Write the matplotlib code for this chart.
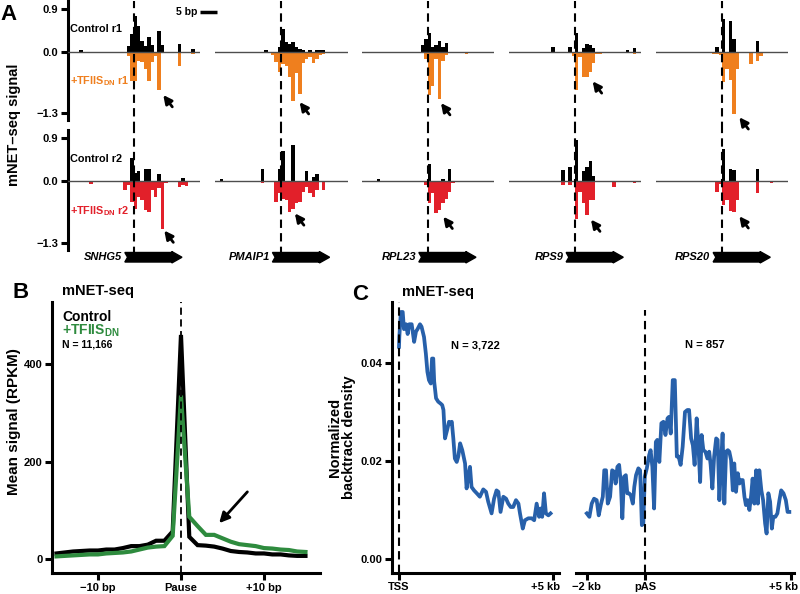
import matplotlib
matplotlib.use("Agg")
import matplotlib.pyplot as plt
from matplotlib.patches import Polygon

# ------------------------------
# Fonts
# ------------------------------
plt.rcParams['font.family'] = ['Liberation Sans', 'DejaVu Sans']
plt.rcParams['font.weight'] = 'bold'
plt.rcParams['mathtext.fontset'] = 'custom'
plt.rcParams['mathtext.bf'] = 'Liberation Sans:bold'
plt.rcParams['mathtext.rm'] = 'Liberation Sans:bold'

# ------------------------------
# Panel A data (bp from pause -> signal)
# ------------------------------
genes = ['SNHG5', 'PMAIP1', 'RPL23', 'RPS9', 'RPS20']

control_r1 = [
    {-16: .03, -2: .12, -1: .37, 0: .76, 1: .55, 2: .22, 3: .12, 4: .30, 5: .14, 7: .44, 8: .13, 13: .16, 17: .05},
    {-5: .04, -1: .10, 0: .48, 1: .20, 2: .16, 3: .20, 4: .10, 5: .05, 6: .04, 8: .04, 10: .04, 11: .04, 12: .03},
    {-2: .13, -1: .27, 0: .40, 1: .09, 2: .13, 3: .22, 4: .09, 5: .18},
    {-7: .10, -2: .10, 0: .39, 2: .07, 3: .16, 4: .14, 5: .07, 15: .04, 17: .07},
    {-2: .10, 0: .69, 2: .65, 3: .27, 10: .23},
]
tfiis_r1 = [
    {-2: .10, -1: .62, 0: .62, 1: .20, 2: .22, 3: .37, 4: .62, 5: .22, 6: .10, 7: .81, 13: .30, 17: .05},
    {-18: .03, -17: .03, -14: .04, -12: .04, -3: .08, -2: .22, -1: .44, 0: .26, 1: .30, 2: .54, 3: 1.05,
     4: .45, 5: .90, 6: .25, 7: .15, 8: .12, 9: .25, 10: .15, 11: .08, 12: .05},
    {-18: .04, -1: .15, 0: .92, 1: .72, 2: .15, 3: 1.0, 4: .19, 5: .08, 11: .05},
    {-1: .10, 0: .81, 1: .12, 2: .54, 3: .54, 4: .44, 5: .25, 6: .05, 7: .05, 17: .05},
    {-3: .05, -2: .06, -1: .08, 0: .65, 1: .37, 2: .61, 3: 1.32, 4: .37, 8: .26, 10: .21, 11: .10},
]
control_r2 = [
    {-1: .48, 0: .16, 1: .20, 3: .25, 4: .25, 7: .15, 14: .06},
    {-18: .05, -6: .25, -1: .25, 0: .63, 3: .76, 7: .20, 9: .09, 10: .15},
    {-15: .05, 0: .35, 4: .04, 6: .25},
    {-4: .23, -2: .30, 0: .87, 2: .20, 3: .30, 4: .42, 5: .10},
    {0: .67, 2: .25, 3: .22, 10: .25},
]
tfiis_r2 = [
    {-13: .07, -3: .19, -2: .08, -1: .44, 0: .58, 1: .33, 2: .40, 3: .60, 4: .65, 5: .19, 6: .33, 7: .15,
     8: 1.0, 9: .05, 10: .02, 13: .12, 14: .08, 15: .10},
    {-18: .02, -6: .05, -3: .03, -2: .44, -1: .26, 0: .37, 1: .40, 2: .65, 3: .58, 4: .47, 5: .44, 6: .23,
     7: .12, 8: .25, 9: .33, 10: .18, 12: .19, 14: .03},
    {-1: .08, 0: .46, 1: .26, 2: .68, 3: .61, 4: .47, 5: .37, 6: .23, 7: .05, 8: .03, 15: .03},
    {-4: .08, -2: .08, 0: .79, 1: .23, 2: .47, 3: .72, 4: .39, 5: .39, 11: .12, 17: .04},
    {-2: .23, -1: .06, 0: .50, 1: .39, 2: .63, 3: .65, 4: .39, 8: .03, 10: .25, 14: .05},
]
# arrow tips (bp, signal)
arrow_r1_bp = [8.7, 5.4, 3.9, 5.2, 5.1]
arrow_r1_val = [-0.92, -1.07, -1.09, -0.63, -1.39]
arrow_r2_bp = [9.0, 4.0, 4.6, 4.7, 5.1]
arrow_r2_val = [-1.04, -0.68, -0.75, -0.81, -0.74]

# ------------------------------
# Panel B data
# ------------------------------
b_pos = list(range(-15, 16))
b_control = [12, 14, 16, 17, 18, 18, 20, 20, 23, 27, 27, 30, 38, 38, 57, 459,
             46, 29, 28, 26, 22, 17, 15, 14, 12, 12, 10, 10, 8, 7, 7]
b_tfiis = [6, 7, 8, 9, 10, 10, 12, 13, 14, 16, 20, 24, 26, 27, 48, 335,
           87, 68, 50, 50, 43, 36, 31, 29, 27, 23, 22, 20, 19, 16, 15]

# ------------------------------
# Panel C data (kb, density)
# ------------------------------
tss_kb = [0.00, 0.01, 0.06, 0.12, 0.16, 0.23, 0.28, 0.33, 0.41, 0.49,
          0.55, 0.60, 0.68, 0.73, 0.81, 0.87, 0.92, 0.97, 1.03, 1.07,
          1.11, 1.14, 1.20, 1.27, 1.35, 1.40, 1.44, 1.49, 1.57, 1.62,
          1.67, 1.71, 1.76, 1.81, 1.87, 1.92, 1.98, 2.05, 2.14, 2.19,
          2.25, 2.30, 2.35, 2.43, 2.52, 2.62, 2.73, 2.82, 2.89, 3.00,
          3.08, 3.16, 3.22, 3.29, 3.38, 3.47, 3.54, 3.62, 3.70, 3.79,
          3.87, 3.92, 4.01, 4.08, 4.19, 4.30, 4.38, 4.46, 4.54, 4.59,
          4.64, 4.70, 4.76, 4.84, 4.91]
tss_density = [.0434, .0454, .0505, .0505, .0470, .0480, .0460, .0480, .0480, .0444,
               .0465, .0470, .0480, .0475, .0454, .0420, .0383, .0366, .0359, .0410,
               .0410, .0363, .0329, .0322, .0318, .0315, .0305, .0247, .0267, .0281,
               .0277, .0281, .0247, .0206, .0199, .0210, .0237, .0223, .0196, .0145,
               .0172, .0189, .0148, .0141, .0135, .0128, .0143, .0138, .0118, .0094,
               .0124, .0141, .0138, .0097, .0128, .0124, .0114, .0107, .0107, .0121,
               .0114, .0094, .0063, .0080, .0084, .0084, .0080, .0114, .0087, .0104,
               .0087, .0135, .0094, .0090, .0094]

pas_kb = [-2.00, -1.91, -1.83, -1.75, -1.66, -1.59, -1.52, -1.45, -1.40, -1.34,
          -1.28, -1.20, -1.13, -1.06, -1.01, -0.95, -0.89, -0.83, -0.78, -0.72,
          -0.66, -0.61, -0.55, -0.49, -0.42, -0.37, -0.31, -0.23, -0.17, -0.11,
          -0.06, -0.01, 0.06, 0.14, 0.19, 0.25, 0.31, 0.37, 0.42, 0.49,
          0.56, 0.63, 0.70, 0.77, 0.82, 0.88, 0.95, 1.02, 1.09, 1.15,
          1.22, 1.29, 1.37, 1.45, 1.51, 1.58, 1.64, 1.70, 1.77, 1.83,
          1.89, 1.94, 2.00, 2.07, 2.14, 2.20, 2.25, 2.31, 2.37, 2.44,
          2.49, 2.55, 2.61, 2.66, 2.72, 2.78, 2.84, 2.89, 2.95, 3.01,
          3.06, 3.12, 3.18, 3.24, 3.29, 3.35, 3.41, 3.46, 3.52, 3.58,
          3.64, 3.69, 3.75, 3.81, 3.87, 3.92, 3.99, 4.05, 4.12, 4.17,
          4.23, 4.29, 4.35, 4.40, 4.47, 4.54, 4.61, 4.67, 4.75, 4.83,
          4.89, 4.95]
pas_density = [.0094, .0087, .0114, .0124, .0121, .0090, .0111, .0128, .0182, .0182,
               .0114, .0128, .0182, .0179, .0155, .0189, .0193, .0155, .0084, .0169,
               .0172, .0135, .0135, .0131, .0114, .0148, .0172, .0186, .0182, .0070,
               .0073, .0169, .0186, .0213, .0223, .0189, .0104, .0240, .0244, .0199,
               .0278, .0281, .0254, .0288, .0291, .0257, .0366, .0366, .0210, .0210,
               .0193, .0230, .0301, .0305, .0305, .0247, .0233, .0193, .0288, .0233,
               .0158, .0254, .0223, .0220, .0206, .0220, .0193, .0145, .0210, .0247,
               .0244, .0121, .0199, .0257, .0114, .0220, .0223, .0220, .0203, .0141,
               .0196, .0138, .0176, .0155, .0162, .0162, .0128, .0111, .0121, .0101,
               .0131, .0165, .0114, .0182, .0114, .0182, .0141, .0121, .0073, .0053,
               .0135, .0118, .0063, .0087, .0087, .0094, .0121, .0141, .0135, .0121,
               .0097, .0097]

# ------------------------------
# Colours / helpers
# ------------------------------
ORANGE = '#EF7F1E'
RED = '#E2202A'
GREEN = '#2E8B3E'
BLUE = '#2760AA'
DASH = (0, (4, 2.5))

W, H = 800, 594
fig = plt.figure(figsize=(8, 5.94), dpi=100)


def axes_px(l, t, r, b):
    return fig.add_axes([l / W, 1 - b / H, (r - l) / W, (b - t) / H])


def text_px(x, y, s, **kw):
    fig.text(x / W, 1 - y / H, s, **kw)


def style_ticks(ax):
    ax.tick_params(direction='out', length=5, width=2.2, labelsize=8, pad=2)
    for s in ax.spines.values():
        s.set_linewidth(2.2)


def right_label(ax, x, s):
    # "+5 kb" sits left of its tick so it stays inside the figure
    ax.annotate(s, xy=(x, 0), xycoords=('data', 'axes fraction'), xytext=(5, -7),
                textcoords='offset points', ha='right', va='top', fontsize=8)


# ------------------------------
# Panel A
# ------------------------------
dash_px = [133.7, 281.3, 427.7, 575, 722]
rows = [(0.5, 120.1, control_r1, tfiis_r1, ORANGE, 'r1', arrow_r1_bp, arrow_r1_val),
        (129.5, 250.1, control_r2, tfiis_r2, RED, 'r2', arrow_r2_bp, arrow_r2_val)]

for r, (top, bot, ctl, tf, col, rep, abp, aval) in enumerate(rows):
    for g in range(5):
        ax = axes_px(dash_px[g] - 66, top, dash_px[g] - 66 + 132.3, bot)
        ax.set_xlim(-19.4, 19.5)
        ax.set_ylim(-1.45, 1.08)
        ax.bar(list(ctl[g].keys()), list(ctl[g].values()), width=1, align='edge',
               color='black', linewidth=0)
        ax.bar(list(tf[g].keys()), [-v for v in tf[g].values()], width=1, align='edge',
               color=col, linewidth=0)
        ax.axhline(0, color='#4d4d4d', lw=1, zorder=3)
        ax.axvline(0, ymin=(-0.08 if r == 0 else -0.04), ymax=1, color='black', lw=1.5,
                   linestyle=DASH, clip_on=False, zorder=4)
        ax.annotate('', xy=(abp[g], aval[g]), xytext=(6.5, -8.5), textcoords='offset points',
                    arrowprops=dict(arrowstyle='-|>,head_length=0.5,head_width=0.25',
                                    color='black', lw=2, shrinkA=0, shrinkB=0))
        for s in ['top', 'right', 'bottom']:
            ax.spines[s].set_visible(False)
        ax.set_xticks([])
        if g == 0:
            style_ticks(ax)
            ax.set_yticks([0.9, 0.0, -1.3])
            ax.set_yticklabels(['0.9', '0.0', '\u22121.3'])
            ax.text(-18.7, 0.47, 'Control ' + rep, fontsize=7.8, va='center', ha='left')
            ax.text(-18.7, -0.63, r'+TFIIS$_\mathbf{DN}$ ' + rep, fontsize=7.8, va='center',
                    ha='left', color=col)
        else:
            ax.spines['left'].set_visible(False)
            ax.set_yticks([])
        ax.patch.set_visible(False)

        if r == 0 and g == 0:
            ax.plot([19.5, 24.5], [0.83, 0.83], color='black', lw=2.5, clip_on=False,
                    solid_capstyle='butt')
            ax.text(18.6, 0.83, '5 bp', fontsize=7.5, ha='right', va='center')
        if r == 1:
            # gene body arrow
            y0, h, hh = -1.60, 0.10, 0.12
            pts = [(-2.6, y0 + h), (11.2, y0 + h), (11.2, y0 + hh), (14.2, y0),
                   (11.2, y0 - hh), (11.2, y0 - h), (-2.6, y0 - h), (-1.8, y0)]
            ax.add_patch(Polygon(pts, closed=True, color='black', clip_on=False, zorder=5))
            ax.text(-3.4, y0, genes[g], fontsize=8, style='italic', ha='right', va='center')

text_px(0, 14, 'A', fontsize=16, va='center', ha='left')
text_px(14, 125, 'mNET\u2013seq signal', fontsize=10.5, rotation=90, va='center', ha='center')

# ------------------------------
# Panel B
# ------------------------------
axb = axes_px(52, 301.7, 320, 573)
axb.plot(b_pos, b_control, color='black', lw=3, solid_joinstyle='miter')
axb.plot(b_pos, b_tfiis, color=GREEN, lw=3, solid_joinstyle='miter')
axb.axvline(0, color='black', lw=1.3, linestyle=DASH, zorder=5)
axb.set_xlim(-15.54, 16.75)
axb.set_ylim(-28, 527)
axb.set_xticks([-10, 0, 10])
axb.set_xticklabels(['\u221210 bp', 'Pause', '+10 bp'])
axb.set_yticks([0, 200, 400])
axb.spines['top'].set_visible(False)
axb.spines['right'].set_visible(False)
style_ticks(axb)
axb.patch.set_visible(False)
axb.annotate('', xy=(4.6, 74), xytext=(8.0, 138),
             arrowprops=dict(arrowstyle='-|>,head_length=0.6,head_width=0.3',
                             color='black', lw=2, shrinkA=0, shrinkB=0))

text_px(12, 292, 'B', fontsize=16, va='center', ha='left')
text_px(62, 291, 'mNET-seq', fontsize=10.5, va='center', ha='left')
text_px(62, 321.5, 'Control', fontsize=10, va='baseline', ha='left')
text_px(62, 335, r'+TFIIS$_\mathbf{DN}$', fontsize=10, va='baseline', ha='left', color=GREEN)
text_px(62, 347.5, 'N = 11,166', fontsize=7.5, va='baseline', ha='left')
text_px(14, 422, 'Mean signal (RPKM)', fontsize=11, rotation=90, va='center', ha='center')

# ------------------------------
# Panel C
# ------------------------------
axc1 = axes_px(391.7, 301.7, 559.3, 572.7)
axc1.plot(tss_kb, tss_density, color=BLUE, lw=2.7)
axc1.axvline(0, color='black', lw=1.5, linestyle=DASH, zorder=5)
axc1.set_xlim(-0.237, 5.194)
axc1.set_ylim(-0.0027, 0.0526)
axc1.set_xticks([0, 5])
axc1.set_xticklabels(['TSS', ''])
right_label(axc1, 5, '+5 kb')
axc1.set_yticks([0.0, 0.02, 0.04])
axc1.set_yticklabels(['0.00', '0.02', '0.04'])
axc1.spines['top'].set_visible(False)
axc1.spines['right'].set_visible(False)
style_ticks(axc1)
axc1.patch.set_visible(False)
axc1.text(0.5, 0.84, 'N = 3,722', transform=axc1.transAxes, fontsize=8, ha='center', va='center')

axc2 = axes_px(575.7, 301.7, 794, 572.7)
axc2.plot(pas_kb, pas_density, color=BLUE, lw=2.7)
axc2.axvline(0, ymax=0.97, color='black', lw=1.5, linestyle=DASH, zorder=5)
axc2.set_xlim(-2.38, 5.11)
axc2.set_ylim(-0.0027, 0.0526)
axc2.set_xticks([-2, 0, 5])
axc2.set_xticklabels(['\u22122 kb', 'pAS', ''])
right_label(axc2, 5, '+5 kb')
axc2.set_yticks([])
for s in ['top', 'right', 'left']:
    axc2.spines[s].set_visible(False)
style_ticks(axc2)
axc2.patch.set_visible(False)
axc2.text(0.591, 0.84, 'N = 857', transform=axc2.transAxes, fontsize=8, ha='center', va='center')

text_px(352, 294, 'C', fontsize=16, va='center', ha='left')
text_px(402, 292, 'mNET-seq', fontsize=10.5, va='center', ha='left')
text_px(342, 437, 'Normalized\nbacktrack density', fontsize=10.5, rotation=90,
        va='center', ha='center', multialignment='center', linespacing=1.0)

plt.savefig('out.png', dpi=100)
